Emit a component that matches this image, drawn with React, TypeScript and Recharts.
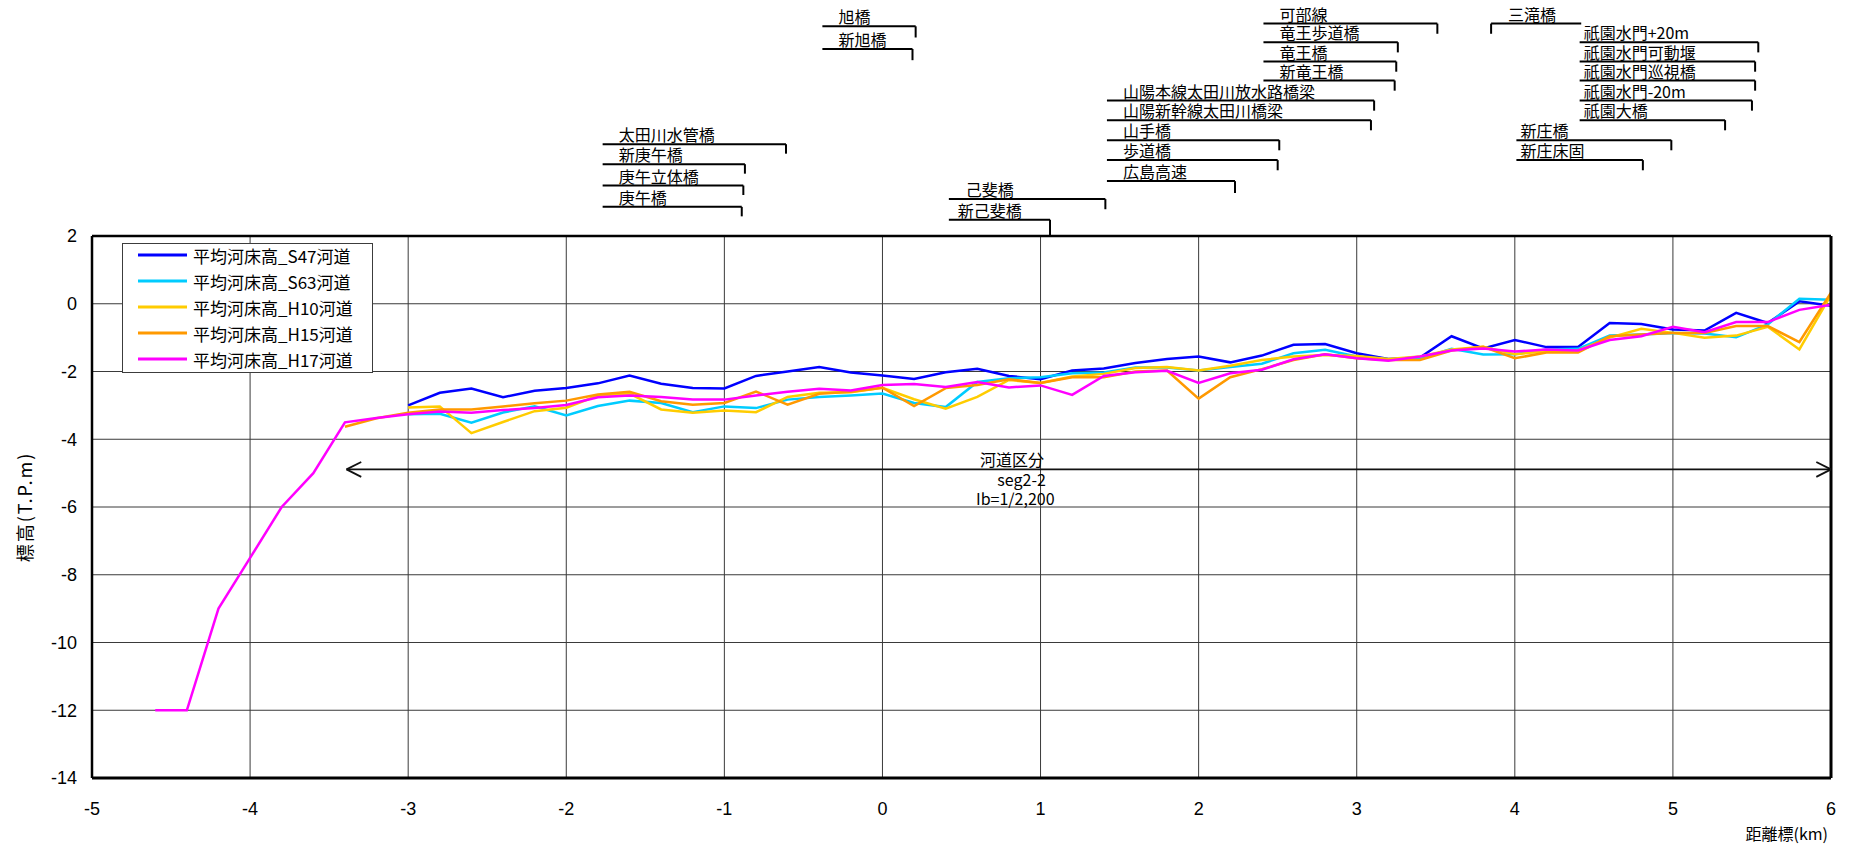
import { LineChart, Line, XAxis, YAxis, CartesianGrid, Legend, ReferenceLine, ReferenceDot } from 'recharts'

const CJK = '"Noto Sans CJK JP", "Noto Sans", sans-serif'
const LATIN = '"Liberation Sans", Arial, sans-serif'

// distance marker (km), one point every 200 m
const distance = [
  -4.6, -4.4, -4.2, -4.0, -3.8, -3.6, -3.4, -3.2, -3.0, -2.8, -2.6, -2.4, -2.2, -2.0, -1.8, -1.6, -1.4, -1.2,
  -1.0, -0.8, -0.6, -0.4, -0.2, 0, 0.2, 0.4, 0.6, 0.8, 1.0, 1.2, 1.4, 1.6, 1.8, 2.0, 2.2, 2.4, 2.6, 2.8,
  3.0, 3.2, 3.4, 3.6, 3.8, 4.0, 4.2, 4.4, 4.6, 4.8, 5.0, 5.2, 5.4, 5.6, 5.8, 6.0,
]

const s47 = [
  null, null, null, null, null, null, null, null,
  -3.0, -2.63, -2.5, -2.76, -2.57, -2.49, -2.35, -2.12, -2.36, -2.49, -2.5, -2.13, -2.0, -1.87, -2.03,
  -2.12, -2.22, -2.02, -1.92, -2.13, -2.23, -1.97, -1.91, -1.75, -1.63, -1.56, -1.73, -1.53, -1.21, -1.19,
  -1.46, -1.63, -1.59, -0.96, -1.32, -1.07, -1.28, -1.28, -0.57, -0.6, -0.76, -0.79, -0.27, -0.57, 0.07, -0.06,
]
const s63 = [
  null, null, null, null, null, null, null, null,
  -3.26, -3.25, -3.51, -3.21, -3.03, -3.3, -3.02, -2.86, -2.93, -3.2, -3.03, -3.08, -2.83, -2.75, -2.71,
  -2.65, -2.93, -3.05, -2.31, -2.2, -2.17, -2.05, -2.03, -1.88, -1.88, -1.97, -1.87, -1.77, -1.46, -1.36,
  -1.56, -1.64, -1.62, -1.33, -1.5, -1.49, -1.35, -1.33, -0.94, -0.91, -0.86, -0.88, -0.99, -0.61, 0.15, 0.12,
]
const h10 = [
  null, null, null, null, null, null, null, null,
  -3.06, -3.03, -3.82, -3.49, -3.17, -3.07, -2.71, -2.65, -3.12, -3.22, -3.15, -3.2, -2.75, -2.63, -2.61,
  -2.48, -2.82, -3.1, -2.75, -2.25, -2.34, -2.15, -2.07, -1.9, -1.87, -1.97, -1.83, -1.66, -1.56, -1.51,
  -1.54, -1.63, -1.56, -1.35, -1.27, -1.49, -1.4, -1.38, -1.0, -0.74, -0.86, -1.0, -0.94, -0.68, -1.35, 0.26,
]
const h15 = [
  null, null, null, null, null, null,
  -3.63, -3.38, -3.22, -3.12, -3.12, -3.03, -2.94, -2.86, -2.68, -2.6, -2.88, -2.98, -2.93, -2.59, -2.98,
  -2.66, -2.6, -2.48, -3.02, -2.49, -2.4, -2.23, -2.34, -2.17, -2.17, -2.0, -1.97, -2.8, -2.17, -1.93, -1.66,
  -1.49, -1.61, -1.66, -1.66, -1.38, -1.27, -1.61, -1.44, -1.44, -0.96, -0.91, -0.86, -0.86, -0.66, -0.66, -1.13, 0.33,
]
const h17 = [
  -12, -12, -9.0, -7.5, -6.0, -5.0, -3.5, -3.37, -3.26, -3.18, -3.22, -3.14, -3.08, -2.99, -2.76, -2.71, -2.75,
  -2.83, -2.83, -2.71, -2.6, -2.51, -2.56, -2.4, -2.37, -2.46, -2.31, -2.47, -2.41, -2.69, -2.13, -2.02, -1.98,
  -2.34, -2.05, -1.95, -1.64, -1.49, -1.61, -1.68, -1.56, -1.38, -1.32, -1.41, -1.35, -1.38, -1.07, -0.96,
  -0.68, -0.84, -0.54, -0.54, -0.18, -0.03,
]

const seriesKeys = ['s47', 's63', 'h10', 'h15', 'h17']
const seriesNames = ['平均河床高_S47河道', '平均河床高_S63河道', '平均河床高_H10河道', '平均河床高_H15河道', '平均河床高_H17河道']
const seriesColors = ['#0000FF', '#00CCFF', '#FFCC00', '#FF9900', '#FF00FF']

const xTicks = [-5, -4, -3, -2, -1, 0, 1, 2, 3, 4, 5, 6]
const yTicks = [2, 0, -2, -4, -6, -8, -10, -12, -14]
const xMinorTicks = Array.from({ length: 56 }, (_, i) => Math.round((-5 + i * 0.2) * 10) / 10)
const yMinorTicks = Array.from({ length: 33 }, (_, i) => 2 - i * 0.5)

// bridges / structures named above the chart, and where each one sits (km)
const bridgeNames = [
  '太田川水管橋', '新庚午橋', '庚午立体橋', '庚午橋', '旭橋', '新旭橋', '己斐橋', '新己斐橋',
  '可部線', '竜王歩道橋', '竜王橋', '新竜王橋', '山陽本線太田川放水路橋梁', '山陽新幹線太田川橋梁', '山手橋', '歩道橋', '広島高速',
  '三滝橋', '祇園水門+20m', '祇園水門可動堰', '祇園水門巡視橋', '祇園水門-20m', '祇園大橋', '新庄橋', '新庄床固',
]
const bridgeKm = [
  -0.61, -0.87, -0.88, -0.89, 0.21, 0.19, 1.41, 1.06,
  3.51, 3.26, 3.25, 3.24, 3.11, 3.09, 2.51, 2.5, 2.23,
  3.85, 5.54, 5.52, 5.52, 5.5, 5.33, 4.99, 4.81,
]
// layout of those labels (leader row height in chart units, leader start, text inset, tick length)
const labelLevel = [
  4.71, 4.12, 3.49, 2.86, 8.19, 7.52, 3.09, 2.48,
  8.27, 7.72, 7.15, 6.59, 6.0, 5.42, 4.83, 4.24, 3.62,
  8.27, 7.72, 7.15, 6.59, 6.0, 5.42, 4.83, 4.24,
]
const labelFrom = [
  -1.77, -1.77, -1.77, -1.77, -0.38, -0.38, 0.42, 0.42,
  2.41, 2.41, 2.41, 2.41, 1.42, 1.42, 1.42, 1.42, 1.42,
  4.42, 4.41, 4.41, 4.41, 4.41, 4.41, 4.01, 4.01,
]
const labelDx = [16, 16, 16, 16, 16, 16, 17, 9, 16, 16, 16, 16, 16, 16, 16, 16, 16, 17, 4, 4, 4, 4, 4, 4, 4]
const labelDrop = [
  0.28, 0.28, 0.28, 0.28, 0.33, 0.33, 0.3, 0.47,
  0.3, 0.3, 0.3, 0.3, 0.3, 0.3, 0.3, 0.3, 0.35,
  0.3, 0.3, 0.3, 0.3, 0.3, 0.3, 0.3, 0.3,
]

// river segment arrow
const segmentFrom = -3.39
const segmentTo = 6.0
const segmentLevel = -4.89
const segmentText = ['河道区分', 'seg2-2', 'Ib=1/2,200']
const segmentTextKm = [0.82, 0.88, 0.84]
const segmentTextLevel = [-4.61, -5.2, -5.76]

const data = distance.map((d, i) => ({ d, s47: s47[i], s63: s63[i], h10: h10[i], h15: h15[i], h17: h17[i] }))

const tickStyle = { fill: '#000', fontSize: 18, fontFamily: LATIN }

function LegendBox({ payload }: { payload?: Array<{ value: string; color: string }> }) {
  if (!payload) return null
  // keep the series order, not the alphabetical one
  const items = [...payload].sort((a, b) => seriesNames.indexOf(a.value) - seriesNames.indexOf(b.value))
  return (
    <div style={{ width: 251, height: 130, boxSizing: 'border-box', border: '1px solid #3c3c3c', background: '#fff' }}>
      <div style={{ marginTop: -2 }}>
        {items.map((entry) => (
          <div key={entry.value} style={{ height: 26, display: 'flex', alignItems: 'center' }}>
            <svg width={65} height={6} style={{ display: 'block' }}>
              <line x1={15} y1={3} x2={64} y2={3} stroke={entry.color} strokeWidth={3} />
            </svg>
            <span style={{ marginLeft: 5, fontFamily: CJK, fontSize: 17, lineHeight: '17px', color: '#000', whiteSpace: 'nowrap' }}>
              {entry.value}
            </span>
          </div>
        ))}
      </div>
    </div>
  )
}

function bridgeLabel(text: string, dx: number) {
  return (props: any) => {
    const vb = props.viewBox
    return (
      <text x={vb.x + dx} y={vb.y - 3} fill="#000" fontSize={16} fontFamily={CJK}>
        {text}
      </text>
    )
  }
}

function yTitle(props: any) {
  const vb = props.viewBox
  const cx = vb.x - 8
  const cy = vb.y + vb.height / 2
  return (
    <text x={cx} y={cy} transform={`rotate(-90 ${cx} ${cy})`} textAnchor="middle" dominantBaseline="central"
      fill="#000" fontSize={18} letterSpacing={2} fontFamily={CJK}>
      標高(T.P.m)
    </text>
  )
}

function xTitle(props: any) {
  const vb = props.viewBox
  return (
    <text x={vb.x + vb.width - 3} y={vb.y + 62} textAnchor="end" fill="#000" fontSize={16} fontFamily={CJK}>
      距離標(km)
    </text>
  )
}

export default function App() {
  return (
    <div style={{ position: 'absolute', left: 0, top: 0, width: 1854, height: 850, background: '#fff' }}>
      <LineChart width={1854} height={850} data={data} margin={{ top: 236, right: 23, bottom: 32, left: 32 }}>
        <CartesianGrid stroke="#3a3a3a" strokeWidth={1} />
        <XAxis
          dataKey="d"
          type="number"
          domain={[-5, 6]}
          ticks={xTicks}
          interval={0}
          height={40}
          tick={tickStyle}
          tickLine={false}
          axisLine={false}
          tickSize={0}
          tickMargin={24}
          label={xTitle}
        />
        <XAxis
          xAxisId="minor"
          type="number"
          domain={[-5, 6]}
          ticks={xMinorTicks}
          interval={0}
          height={0}
          mirror
          axisLine={false}
          tickSize={6}
          tickLine={{ stroke: '#000' }}
          tickFormatter={() => ''}
        />
        <YAxis
          type="number"
          domain={[-14, 2]}
          ticks={yTicks}
          interval={0}
          width={60}
          tick={tickStyle}
          tickLine={false}
          axisLine={false}
          tickSize={0}
          tickMargin={15}
          label={yTitle}
        />
        <YAxis
          yAxisId="minor"
          type="number"
          domain={[-14, 2]}
          ticks={yMinorTicks}
          interval={0}
          width={0}
          mirror
          axisLine={false}
          tickSize={5}
          tickLine={{ stroke: '#000' }}
          tickFormatter={() => ''}
        />

        {seriesKeys.map((key, i) => (
          <Line
            key={key}
            type="linear"
            dataKey={key}
            name={seriesNames[i]}
            stroke={seriesColors[i]}
            strokeWidth={2.5}
            dot={false}
            activeDot={false}
            connectNulls={false}
            isAnimationActive={false}
          />
        ))}

        {/* plot frame */}
        <ReferenceLine x={-5} stroke="#000" strokeWidth={2.5} />
        <ReferenceLine x={6} stroke="#000" strokeWidth={3} />
        <ReferenceLine y={2} stroke="#000" strokeWidth={2.5} />
        <ReferenceLine y={-14} stroke="#000" strokeWidth={3} />

        {/* river segment arrow */}
        <ReferenceLine segment={[{ x: segmentFrom, y: segmentLevel }, { x: segmentTo, y: segmentLevel }]} stroke="#111" strokeWidth={1.8} ifOverflow="visible" />
        <ReferenceLine segment={[{ x: segmentFrom, y: segmentLevel }, { x: segmentFrom + 0.093, y: segmentLevel + 0.22 }]} stroke="#111" strokeWidth={1.8} ifOverflow="visible" />
        <ReferenceLine segment={[{ x: segmentFrom, y: segmentLevel }, { x: segmentFrom + 0.093, y: segmentLevel - 0.22 }]} stroke="#111" strokeWidth={1.8} ifOverflow="visible" />
        <ReferenceLine segment={[{ x: segmentTo, y: segmentLevel }, { x: segmentTo - 0.093, y: segmentLevel + 0.22 }]} stroke="#111" strokeWidth={1.8} ifOverflow="visible" />
        <ReferenceLine segment={[{ x: segmentTo, y: segmentLevel }, { x: segmentTo - 0.093, y: segmentLevel - 0.22 }]} stroke="#111" strokeWidth={1.8} ifOverflow="visible" />
        {segmentText.map((t, i) => (
          <ReferenceDot
            key={t}
            x={segmentTextKm[i]}
            y={segmentTextLevel[i]}
            r={0}
            fill="none"
            stroke="none"
            ifOverflow="visible"
            label={{ value: t, position: 'center', fill: '#000', fontSize: 16, fontFamily: CJK }}
          />
        ))}

        {/* bridge names above the chart */}
        {bridgeNames.map((name, i) => (
          <ReferenceLine
            key={`h-${name}`}
            segment={[{ x: labelFrom[i], y: labelLevel[i] }, { x: bridgeKm[i], y: labelLevel[i] }]}
            stroke="#000"
            strokeWidth={2}
            ifOverflow="visible"
            label={bridgeLabel(name, labelDx[i])}
          />
        ))}
        {bridgeNames.map((name, i) => (
          <ReferenceLine
            key={`v-${name}`}
            segment={[{ x: bridgeKm[i], y: labelLevel[i] }, { x: bridgeKm[i], y: labelLevel[i] - labelDrop[i] }]}
            stroke="#000"
            strokeWidth={2}
            ifOverflow="visible"
          />
        ))}

        <Legend
          layout="vertical"
          align="center"
          verticalAlign="middle"
          content={<LegendBox />}
          wrapperStyle={{ left: 122, top: 243 }}
        />
      </LineChart>
    </div>
  )
}
